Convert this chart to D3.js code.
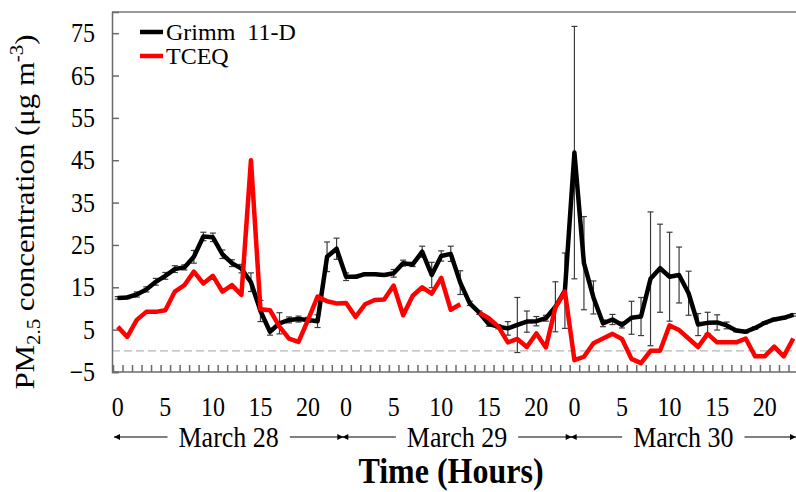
<!DOCTYPE html>
<html>
<head>
<meta charset="utf-8">
<script src="https://cdn.jsdelivr.net/npm/d3@7"></script>
<style>
  body { margin: 0; background: #fff; }
  text { font-family: "Liberation Serif", "Times New Roman", serif; fill: #000; }
  .tall { transform-box: fill-box; transform-origin: center; transform: scaleY(1.12); }
</style>
</head>
<body>
<div id="chart"></div>
<script>
// days and hour labels
const days = ["March 28", "March 29", "March 30"];
const hourTicks = [0, 5, 10, 15, 20];
const yTicks = [-5, 5, 15, 25, 35, 45, 55, 65, 75];

// Grimm 11-D hourly mean (ug m-3), 72 hours
const grimm = [
    12.5, 12.6, 13.3, 14.5, 16.3, 17.7, 19.3, 19.7, 22.2, 27.0, 26.8, 22.8, 20.7, 19.4, 16.2, 9.4, 4.5, 6.5, 7.3, 7.5, 7.3, 7.0, 22.2, 24.1,
    17.5, 17.5, 18.1, 18.1, 17.9, 18.3, 20.7, 20.4, 23.4, 17.9, 22.4, 22.9, 16.1, 11.2, 9.0, 6.3, 5.7, 5.3, 6.1, 6.9, 7.0, 7.7, 10.4, 14.2,
    46.8, 20.7, 12.6, 6.5, 7.4, 6.1, 7.8, 8.1, 17.0, 19.5, 17.5, 17.9, 13.6, 6.2, 6.6, 6.7, 6.0, 4.8, 4.5, 5.4, 6.6, 7.4, 7.8, 8.5
];

// Grimm standard deviation (error bars)
const grimmErr = [
    0.3, 0.3, 0.6, 0.6, 0.8, 0.8, 0.8, 0.6, 1.5, 1.0, 1.0, 1.0, 0.8, 1.0, 2.2, 2.5, 0.8, 2.5, 0.7, 0.7, 0.6, 1.5, 3.5, 2.5,
    0.9, 0.3, 0.3, 0.3, 0.3, 0.9, 0.7, 0.5, 1.3, 3.0, 1.2, 1.8, 2.8, 0.5, 0.4, 0.5, 0.5, 1.6, 6.5, 2.5, 1.1, 0.7, 5.9, 8.9,
    29.8, 11.0, 3.9, 0.8, 1.2, 0.7, 3.9, 4.5, 15.8, 10.4, 10.5, 6.6, 5.2, 2.6, 2.5, 1.8, 0.8, 0.3, 0.3, 0.3, 0.3, 0.3, 0.3, 0.3
];

// TCEQ hourly (null = missing)
const tceq = [
    5.7, 3.3, 7.3, 9.2, 9.2, 9.6, 14.0, 15.5, 18.7, 15.9, 17.7, 14.0, 15.5, 13.2, 45.0, 9.8, 9.6, 5.7, 2.9, 2.1, 7.3, 12.8, 11.7, 11.2,
    11.3, 8.0, 11.0, 12.0, 12.1, 15.4, 8.4, 13.0, 15.0, 13.5, 17.2, 9.7, 11.0, null, 9.0, 7.7, 5.7, 2.0, 2.8, 0.9, 4.1, 0.8, 10.2, 14.0,
    -2.2, -1.4, 1.8, 2.9, 4.0, 2.8, -1.9, -2.9, 0.0, 0.0, 6.0, 4.9, 2.9, 0.9, 4.0, 2.0, 2.0, 2.0, 2.9, -1.3, -1.3, 1.0, -1.3, 2.9
];

const width = 796;
const height = 492;
const margin = { top: 12, left: 112, bottom: 372, right: 798 };
const axisColor = "#7a7a7a";

const nHours = days.length * 24;
const idx = d3.range(nHours);

const svg = d3.select("#chart")
    .append("svg")
    .attr("width", width)
    .attr("height", height);

const x = d3.scaleBand()
    .domain(idx)
    .range([margin.left + 1, margin.right])
    .padding(0);
const xb = d3.scaleLinear()
    .domain([0, nHours])
    .range([margin.left + 1, margin.right]);
const cx = i => x(i) + x.bandwidth() / 2;

const y = d3.scaleLinear()
    .domain([-5, 80])
    .range([margin.bottom, margin.top]);

// top frame line
svg.append("line")
    .attr("x1", margin.left).attr("x2", width)
    .attr("y1", margin.top).attr("y2", margin.top)
    .attr("stroke", axisColor).attr("stroke-width", 1.5);

// zero reference line
svg.append("line")
    .attr("x1", margin.left).attr("x2", width)
    .attr("y1", y(0)).attr("y2", y(0))
    .attr("stroke", "#b5b5b5").attr("stroke-width", 1.2)
    .attr("stroke-dasharray", "8,4");

// y axis
const yAxis = svg.append("g")
    .attr("transform", `translate(${margin.left}, 0)`)
    .call(d3.axisLeft(y).tickValues(yTicks).tickSize(-7).tickPadding(17));
yAxis.selectAll("text").attr("class", "tall").style("font-size", "24px");

// x axis ticks at category boundaries
const xAxis = svg.append("g")
    .attr("transform", `translate(0, ${margin.bottom})`)
    .call(d3.axisBottom(xb).tickValues(d3.range(0, nHours + 1)).tickSize(-7).tickFormat(""));
xAxis.select(".domain").attr("d", `M${margin.left},0H${width}`);

// x labels at hour centres
const labelIdx = [];
days.forEach((d, k) => hourTicks.forEach(h => labelIdx.push(k * 24 + h)));
const xLab = svg.append("g")
    .attr("transform", `translate(0, ${margin.bottom})`)
    .call(d3.axisBottom(x).tickValues(labelIdx).tickSize(0).tickPadding(26).tickFormat(i => i % 24));
xLab.select(".domain").remove();
xLab.selectAll("text").attr("class", "tall").style("font-size", "24px");

svg.selectAll(".domain, .tick line").attr("stroke", "#6a6a6a").attr("stroke-width", 1.5);

// lines
const line = d3.line()
    .defined(d => d != null)
    .x((d, i) => cx(i))
    .y(d => y(d));

// error bars (under the Grimm line)
const eb = svg.append("g").attr("stroke", "#3c3c3c").attr("stroke-width", 1.2);
grimm.forEach((v, i) => {
    const e = grimmErr[i];
    const px = cx(i);
    eb.append("line").attr("x1", px).attr("x2", px).attr("y1", y(v - e)).attr("y2", y(v + e));
    eb.append("line").attr("x1", px - 3).attr("x2", px + 3).attr("y1", y(v - e)).attr("y2", y(v - e));
    eb.append("line").attr("x1", px - 3).attr("x2", px + 3).attr("y1", y(v + e)).attr("y2", y(v + e));
});

svg.append("path")
    .datum(grimm)
    .attr("fill", "none")
    .attr("stroke", "#000")
    .attr("stroke-width", 4.5)
    .attr("stroke-linejoin", "round")
    .attr("d", line);

svg.append("path")
    .datum(tceq)
    .attr("fill", "none")
    .attr("stroke", "#ff0000")
    .attr("stroke-width", 4.5)
    .attr("stroke-linejoin", "round")
    .attr("d", line);

// legend
const legend = [
    { name: "Grimm  11-D", color: "#000" },
    { name: "TCEQ", color: "#ff0000" }
];
legend.forEach((d, k) => {
    const ly = 32 + k * 24;
    svg.append("line")
        .attr("x1", 140).attr("x2", 163)
        .attr("y1", ly).attr("y2", ly)
        .attr("stroke", d.color).attr("stroke-width", 4.5);
    svg.append("text")
        .attr("x", 166).attr("y", ly + 8)
        .style("font-size", "24px")
        .style("white-space", "pre")
        .text(d.name);
});

// day arrows
const defs = svg.append("defs");
defs.append("marker")
    .attr("id", "arr")
    .attr("viewBox", "0 0 10 10")
    .attr("refX", 10).attr("refY", 5)
    .attr("markerWidth", 8).attr("markerHeight", 6)
    .attr("markerUnits", "userSpaceOnUse")
    .attr("orient", "auto")
    .append("path").attr("d", "M0,0L10,5L0,10Z").attr("fill", "#000");

const arrowY = 437;
days.forEach((d, k) => {
    const x0 = xb(k * 24) + 1;
    const x1 = Math.min(xb((k + 1) * 24) + 2, width);
    const mid = (x0 + x1) / 2;
    const t = svg.append("text")
        .attr("class", "tall")
        .attr("x", mid).attr("y", arrowY + 9)
        .attr("text-anchor", "middle")
        .style("font-size", "26px")
        .text(d);
    const half = t.node().getComputedTextLength() / 2;
    svg.append("line")
        .attr("x1", mid - half - 11).attr("x2", x0)
        .attr("y1", arrowY).attr("y2", arrowY)
        .attr("stroke", "#000").attr("stroke-width", 1.2)
        .attr("marker-end", "url(#arr)");
    svg.append("line")
        .attr("x1", mid + half + 11).attr("x2", x1)
        .attr("y1", arrowY).attr("y2", arrowY)
        .attr("stroke", "#000").attr("stroke-width", 1.2)
        .attr("marker-end", "url(#arr)");
});

// axis titles
svg.append("text")
    .attr("class", "tall")
    .attr("x", 451).attr("y", 482)
    .attr("text-anchor", "middle")
    .style("font-size", "32px")
    .style("font-weight", "bold")
    .text("Time (Hours)");

const yl = svg.append("text")
    .attr("transform", "translate(34, 212) rotate(-90) scale(1.1, 1)")
    .attr("text-anchor", "middle")
    .style("font-size", "28px");
yl.append("tspan").text("PM");
yl.append("tspan").attr("dy", 6).style("font-size", "19px").text("2.5");
yl.append("tspan").attr("dy", -6).text(" concentration (μg m");
yl.append("tspan").attr("dy", -11).style("font-size", "19px").text("-3");
yl.append("tspan").attr("dy", 11).text(")");
</script>
</body>
</html>
